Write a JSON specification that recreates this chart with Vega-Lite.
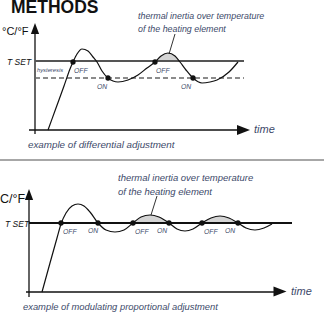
{
  "$schema": "https://vega.github.io/schema/vega-lite/v6.json",
  "width": 324,
  "height": 324,
  "padding": 0,
  "autosize": {"type": "none"},
  "background": "white",
  "config": {"view": {"stroke": null}},
  "encoding": {
    "x": {"field": "x", "type": "quantitative", "axis": null, "scale": {"domain": [0, 324], "nice": false, "zero": false}},
    "y": {"field": "y", "type": "quantitative", "axis": null, "scale": {"domain": [0, 324], "nice": false, "zero": false, "reverse": true}}
  },
  "layer": [
    {
      "data": {"values": [
        {"g": "a", "x": 155, "y": 62, "b": 61}, {"g": "a", "x": 161, "y": 56, "b": 61}, {"g": "a", "x": 168, "y": 53, "b": 61}, {"g": "a", "x": 175, "y": 56, "b": 61}, {"g": "a", "x": 180, "y": 61, "b": 61},
        {"g": "b", "x": 133, "y": 223, "b": 223}, {"g": "b", "x": 141, "y": 217, "b": 223}, {"g": "b", "x": 150, "y": 215, "b": 223}, {"g": "b", "x": 159, "y": 217, "b": 223}, {"g": "b", "x": 169, "y": 223, "b": 223},
        {"g": "c", "x": 202, "y": 223, "b": 223}, {"g": "c", "x": 211, "y": 218, "b": 223}, {"g": "c", "x": 220, "y": 216, "b": 223}, {"g": "c", "x": 229, "y": 218, "b": 223}, {"g": "c", "x": 238, "y": 223, "b": 223}
      ]},
      "mark": {"type": "area", "interpolate": "monotone", "color": "#d4d4d4"},
      "encoding": {"y2": {"field": "b"}, "detail": {"field": "g"}}
    },
    {
      "data": {"values": [
        {"x": 35, "y": 134, "x2": 35, "y2": 30}, {"x": 29, "y": 130, "x2": 240, "y2": 130},
        {"x": 29, "y": 297, "x2": 29, "y2": 196}, {"x": 26, "y": 292, "x2": 278, "y2": 292}
      ]},
      "mark": {"type": "rule", "color": "#111", "strokeWidth": 1.3},
      "encoding": {"x2": {"field": "x2"}, "y2": {"field": "y2"}}
    },
    {
      "data": {"values": [{"x": 35, "y": 61, "x2": 244, "y2": 61}]},
      "mark": {"type": "rule", "color": "#555", "strokeWidth": 1.8},
      "encoding": {"x2": {"field": "x2"}, "y2": {"field": "y2"}}
    },
    {
      "data": {"values": [{"x": 29, "y": 223, "x2": 292, "y2": 223}]},
      "mark": {"type": "rule", "color": "#111", "strokeWidth": 2},
      "encoding": {"x2": {"field": "x2"}, "y2": {"field": "y2"}}
    },
    {
      "data": {"values": [{"x": 35, "y": 78, "x2": 244, "y2": 78}]},
      "mark": {"type": "rule", "color": "#666", "strokeWidth": 1.3, "strokeDash": [5, 3]},
      "encoding": {"x2": {"field": "x2"}, "y2": {"field": "y2"}}
    },
    {
      "data": {"values": [{"x": 0, "y": 160, "x2": 324, "y2": 160}]},
      "mark": {"type": "rule", "color": "#8a8a8a", "strokeWidth": 1.3},
      "encoding": {"x2": {"field": "x2"}, "y2": {"field": "y2"}}
    },
    {
      "data": {"values": [{"x": 175, "y": 34, "x2": 169, "y2": 54}, {"x": 157, "y": 196, "x2": 151, "y2": 215}]},
      "mark": {"type": "rule", "color": "#333", "strokeWidth": 1},
      "encoding": {"x2": {"field": "x2"}, "y2": {"field": "y2"}}
    },
    {
      "data": {"values": [
        {"g": "t", "x": 48, "y": 130}, {"g": "t", "x": 56, "y": 108}, {"g": "t", "x": 64, "y": 86}, {"g": "t", "x": 70, "y": 69}, {"g": "t", "x": 73, "y": 62}, {"g": "t", "x": 77, "y": 54}, {"g": "t", "x": 82, "y": 49}, {"g": "t", "x": 88, "y": 51}, {"g": "t", "x": 93, "y": 57}, {"g": "t", "x": 97, "y": 62}, {"g": "t", "x": 102, "y": 71}, {"g": "t", "x": 108, "y": 78}, {"g": "t", "x": 113, "y": 81}, {"g": "t", "x": 118, "y": 82}, {"g": "t", "x": 128, "y": 80}, {"g": "t", "x": 138, "y": 75}, {"g": "t", "x": 147, "y": 68}, {"g": "t", "x": 155, "y": 62}, {"g": "t", "x": 161, "y": 56}, {"g": "t", "x": 168, "y": 53}, {"g": "t", "x": 175, "y": 56}, {"g": "t", "x": 180, "y": 62}, {"g": "t", "x": 186, "y": 70}, {"g": "t", "x": 193, "y": 78}, {"g": "t", "x": 202, "y": 83}, {"g": "t", "x": 210, "y": 82}, {"g": "t", "x": 217, "y": 80}, {"g": "t", "x": 229, "y": 72}, {"g": "t", "x": 238, "y": 62},
        {"g": "b", "x": 42, "y": 292}, {"g": "b", "x": 50, "y": 263}, {"g": "b", "x": 57, "y": 238}, {"g": "b", "x": 61, "y": 224}, {"g": "b", "x": 66, "y": 213}, {"g": "b", "x": 72, "y": 206}, {"g": "b", "x": 78, "y": 204}, {"g": "b", "x": 84, "y": 206}, {"g": "b", "x": 90, "y": 212}, {"g": "b", "x": 98, "y": 223}, {"g": "b", "x": 106, "y": 230}, {"g": "b", "x": 115, "y": 232}, {"g": "b", "x": 124, "y": 230}, {"g": "b", "x": 133, "y": 223}, {"g": "b", "x": 141, "y": 217}, {"g": "b", "x": 150, "y": 215}, {"g": "b", "x": 159, "y": 217}, {"g": "b", "x": 169, "y": 223}, {"g": "b", "x": 177, "y": 229}, {"g": "b", "x": 185, "y": 231}, {"g": "b", "x": 193, "y": 229}, {"g": "b", "x": 202, "y": 223}, {"g": "b", "x": 211, "y": 218}, {"g": "b", "x": 220, "y": 216}, {"g": "b", "x": 229, "y": 218}, {"g": "b", "x": 238, "y": 223}, {"g": "b", "x": 246, "y": 228}, {"g": "b", "x": 255, "y": 230}, {"g": "b", "x": 264, "y": 228}, {"g": "b", "x": 272, "y": 224}
      ]},
      "mark": {"type": "line", "interpolate": "monotone", "color": "#111", "strokeWidth": 1.2},
      "encoding": {"detail": {"field": "g"}}
    },
    {
      "data": {"values": [
        {"x": 73, "y": 62}, {"x": 108, "y": 78}, {"x": 155, "y": 62}, {"x": 193, "y": 78},
        {"x": 61, "y": 223}, {"x": 98, "y": 223}, {"x": 133, "y": 223}, {"x": 169, "y": 223}, {"x": 202, "y": 223}, {"x": 238, "y": 223}
      ]},
      "mark": {"type": "point", "shape": "circle", "filled": true, "color": "#111", "size": 28, "opacity": 1}
    },
    {
      "data": {"values": [{"x": 35, "y": 28.5}, {"x": 29, "y": 194.5}]},
      "mark": {"type": "point", "shape": "M0,-1L-0.75,1L0.75,1Z", "filled": true, "color": "#111", "size": 121, "opacity": 1}
    },
    {
      "data": {"values": [{"x": 243.5, "y": 130}, {"x": 280, "y": 291.5}]},
      "mark": {"type": "point", "shape": "M1,0L-1,-0.77L-1,0.77Z", "filled": true, "color": "#111", "size": 169, "opacity": 1}
    },
    {
      "data": {"values": [{"t": "METHODS", "x": 11, "y": 12.5}]},
      "mark": {"type": "text", "font": "Liberation Sans", "fontWeight": "bold", "fontSize": 17.5, "align": "left", "baseline": "alphabetic", "color": "#111"},
      "encoding": {"text": {"field": "t"}}
    },
    {
      "data": {"values": [{"t": "°C/°F", "x": 2, "y": 34.5}]},
      "mark": {"type": "text", "font": "Liberation Sans", "fontSize": 11, "align": "left", "baseline": "alphabetic", "color": "#111"},
      "encoding": {"text": {"field": "t"}}
    },
    {
      "data": {"values": [{"t": "°C/°F", "x": -5, "y": 203}]},
      "mark": {"type": "text", "font": "Liberation Sans", "fontSize": 12.5, "align": "left", "baseline": "alphabetic", "color": "#111"},
      "encoding": {"text": {"field": "t"}}
    },
    {
      "data": {"values": [{"t": "T SET", "x": 7, "y": 61.5}, {"t": "T SET", "x": 5, "y": 223.5}]},
      "mark": {"type": "text", "font": "Liberation Sans", "fontStyle": "italic", "fontSize": 8.5, "align": "left", "baseline": "middle", "color": "#111"},
      "encoding": {"text": {"field": "t"}}
    },
    {
      "data": {"values": [{"t": "hysteresis", "x": 37, "y": 70}]},
      "mark": {"type": "text", "font": "Liberation Sans", "fontStyle": "italic", "fontSize": 5.8, "align": "left", "baseline": "middle", "color": "#3d4a6a"},
      "encoding": {"text": {"field": "t"}}
    },
    {
      "data": {"values": [
        {"t": "OFF", "x": 74, "y": 72.5}, {"t": "ON", "x": 97, "y": 89}, {"t": "OFF", "x": 156, "y": 72.5}, {"t": "ON", "x": 181, "y": 89},
        {"t": "OFF", "x": 63, "y": 234}, {"t": "ON", "x": 88, "y": 233}, {"t": "OFF", "x": 135, "y": 234}, {"t": "ON", "x": 157, "y": 233}, {"t": "OFF", "x": 204, "y": 234}, {"t": "ON", "x": 225, "y": 233}
      ]},
      "mark": {"type": "text", "font": "Liberation Sans", "fontStyle": "italic", "fontSize": 6.8, "align": "left", "baseline": "alphabetic", "color": "#3d4a6a"},
      "encoding": {"text": {"field": "t"}}
    },
    {
      "data": {"values": [{"t": "time", "x": 254, "y": 130}, {"t": "time", "x": 291, "y": 292}]},
      "mark": {"type": "text", "font": "Liberation Sans", "fontStyle": "italic", "fontSize": 11, "align": "left", "baseline": "middle", "color": "#3d4a6a"},
      "encoding": {"text": {"field": "t"}}
    },
    {
      "data": {"values": [{"t": "example of differential adjustment", "x": 28, "y": 145}]},
      "mark": {"type": "text", "font": "Liberation Sans", "fontStyle": "italic", "fontSize": 9.8, "align": "left", "baseline": "middle", "color": "#3d4a6a"},
      "encoding": {"text": {"field": "t"}}
    },
    {
      "data": {"values": [{"t": "example of modulating proportional adjustment", "x": 23, "y": 307}]},
      "mark": {"type": "text", "font": "Liberation Sans", "fontStyle": "italic", "fontSize": 9.4, "align": "left", "baseline": "middle", "color": "#3d4a6a"},
      "encoding": {"text": {"field": "t"}}
    },
    {
      "data": {"values": [{"t": "thermal inertia over temperature", "x": 138, "y": 16}, {"t": "of the heating element", "x": 138, "y": 29}]},
      "mark": {"type": "text", "font": "Liberation Sans", "fontStyle": "italic", "fontSize": 8.9, "align": "left", "baseline": "middle", "color": "#3d4a6a"},
      "encoding": {"text": {"field": "t"}}
    },
    {
      "data": {"values": [{"t": "thermal inertia over temperature", "x": 118, "y": 178}, {"t": "of the heating element", "x": 118, "y": 192}]},
      "mark": {"type": "text", "font": "Liberation Sans", "fontStyle": "italic", "fontSize": 9.5, "align": "left", "baseline": "middle", "color": "#3d4a6a"},
      "encoding": {"text": {"field": "t"}}
    }
  ]
}
